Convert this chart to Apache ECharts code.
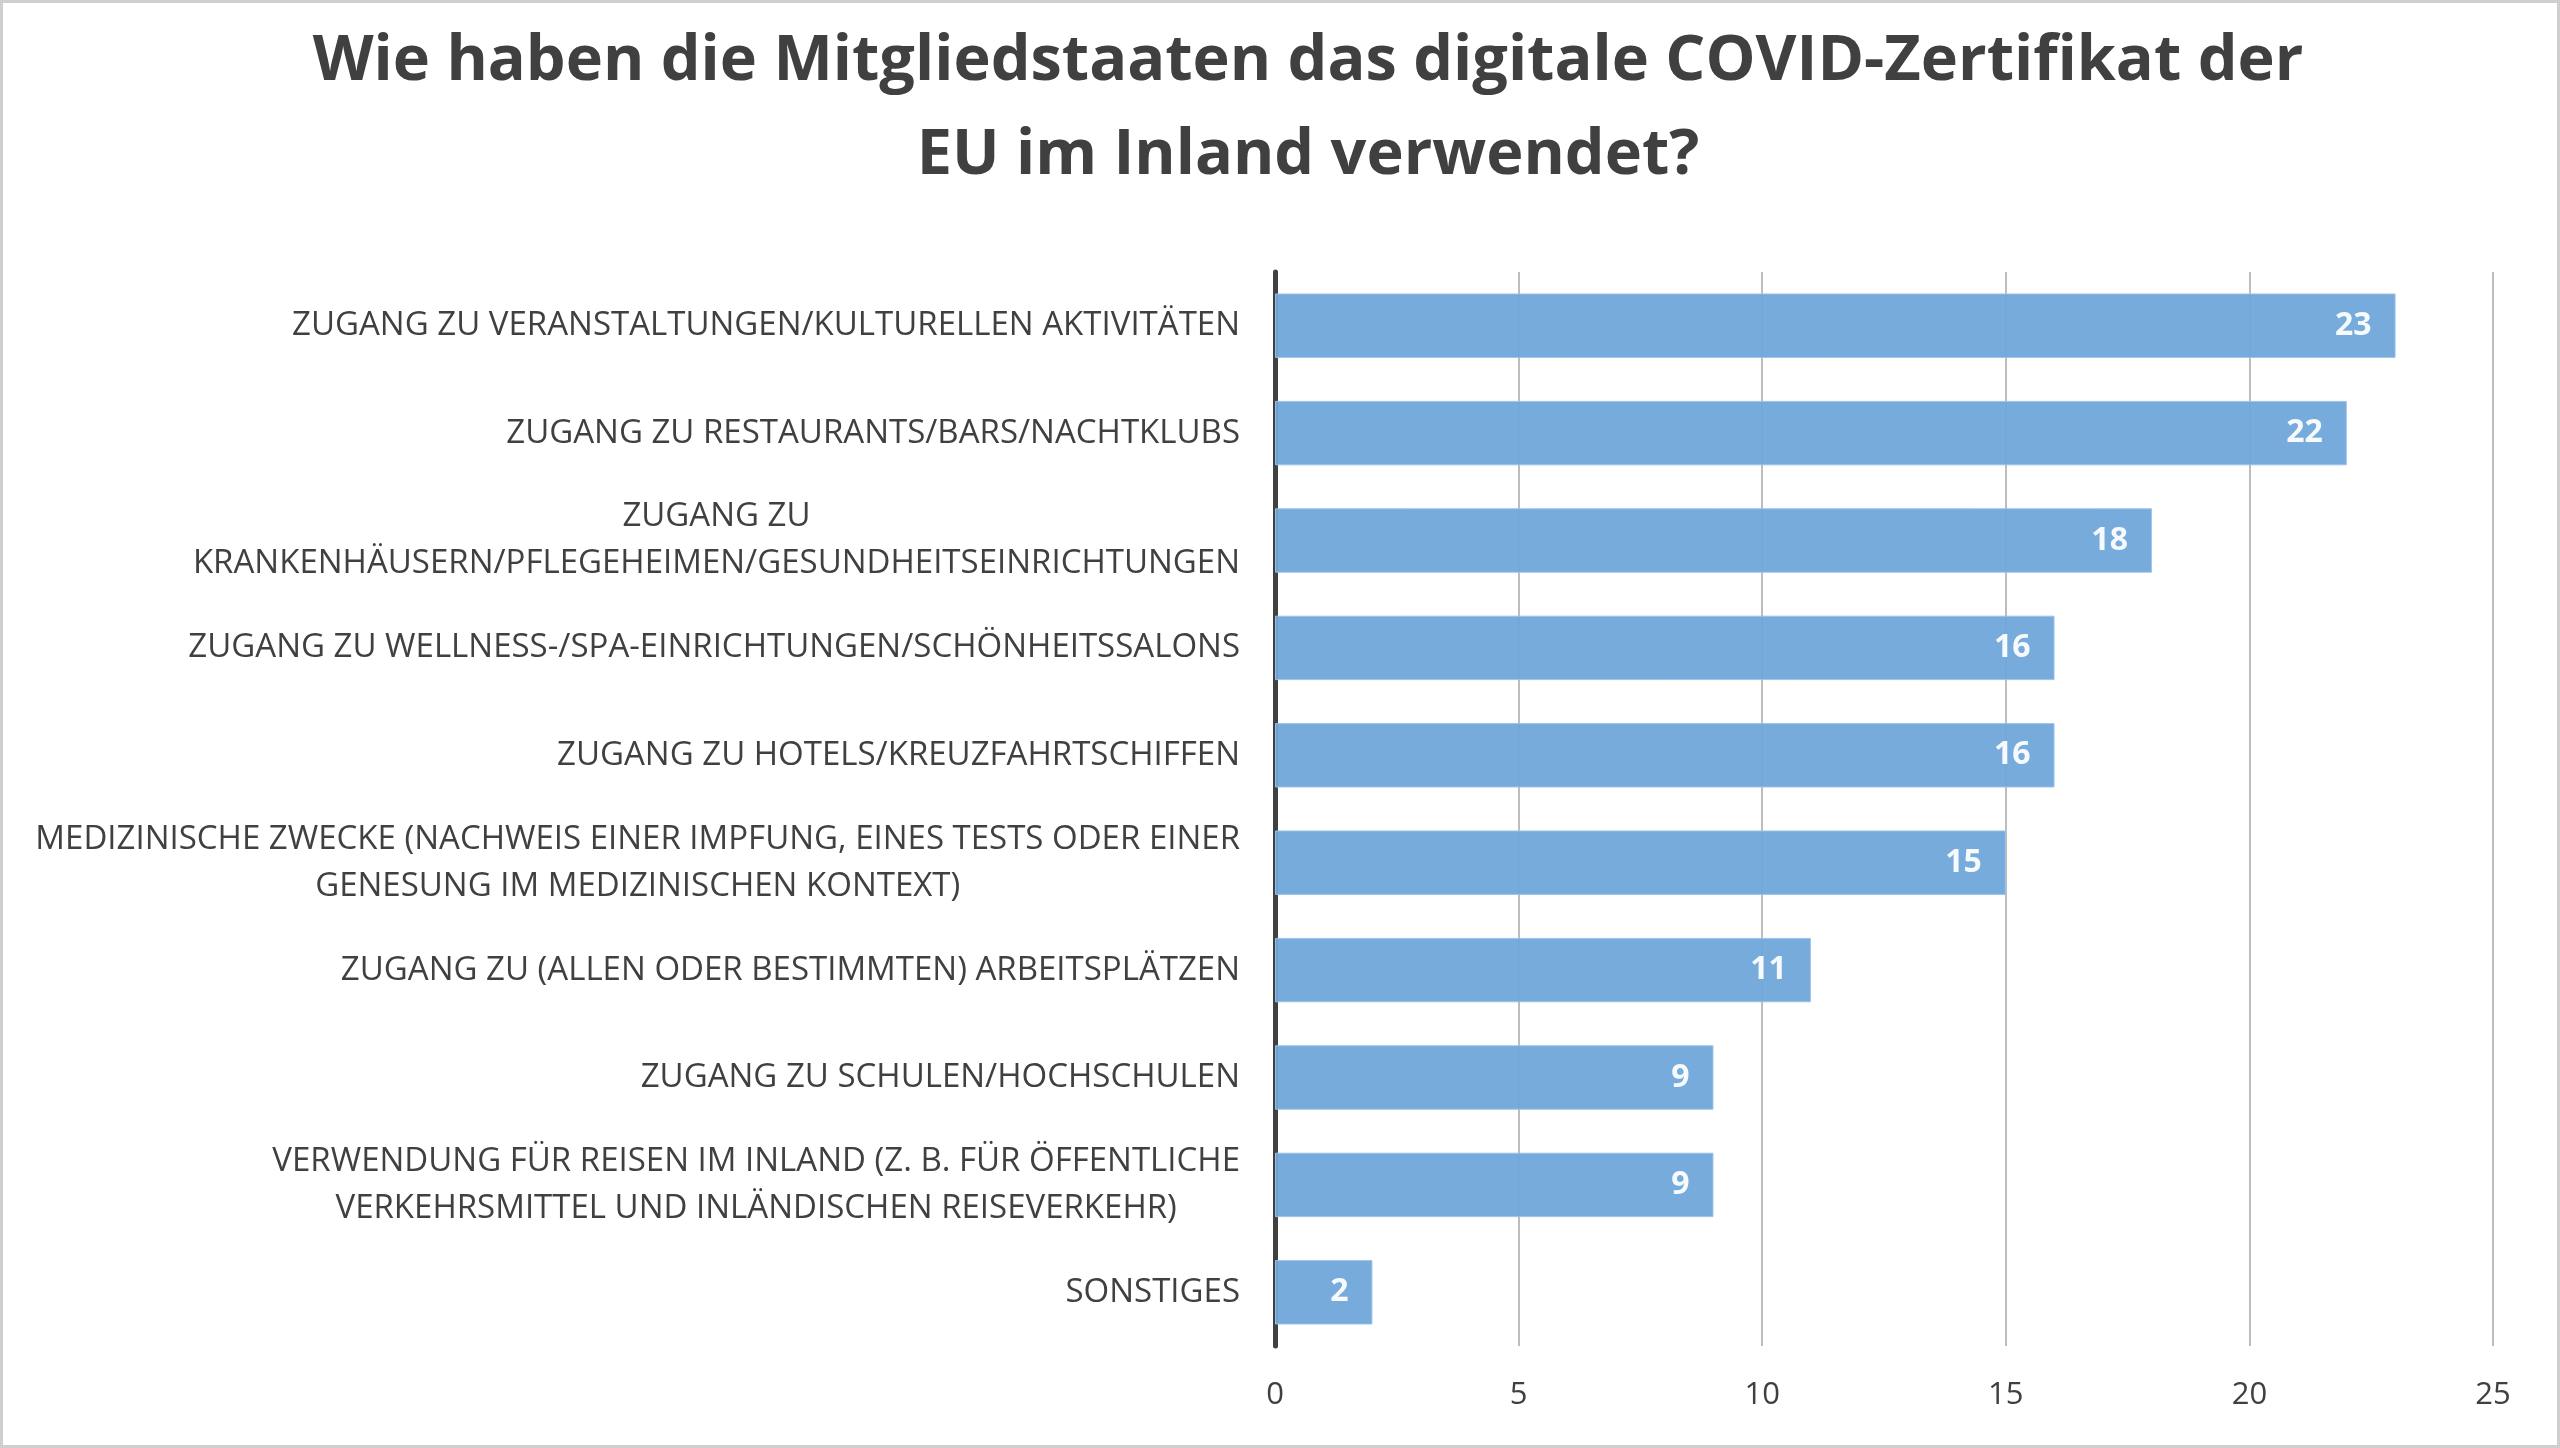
<!DOCTYPE html>
<html>
<head>
<meta charset="utf-8">
<script src="https://cdn.jsdelivr.net/npm/echarts@6/dist/echarts.min.js"></script>
<style>
html,body{margin:0;padding:0;background:#fff;}
#frame{position:absolute;left:0;top:0;width:2560px;height:1448px;box-sizing:border-box;border:3px solid #CFCFCF;}
#chart{position:absolute;left:0;top:0;width:2560px;height:1448px;}
</style>
</head>
<body>
<div id="frame"></div>
<div id="chart"></div>
<script>
const titleText = 'Wie haben die Mitgliedstaaten das digitale COVID-Zertifikat der\nEU im Inland verwendet?';
const categories = [
  'ZUGANG ZU VERANSTALTUNGEN/KULTURELLEN AKTIVITÄTEN',
  'ZUGANG ZU RESTAURANTS/BARS/NACHTKLUBS',
  'ZUGANG ZU\nKRANKENHÄUSERN/PFLEGEHEIMEN/GESUNDHEITSEINRICHTUNGEN',
  'ZUGANG ZU WELLNESS-/SPA-EINRICHTUNGEN/SCHÖNHEITSSALONS',
  'ZUGANG ZU HOTELS/KREUZFAHRTSCHIFFEN',
  'MEDIZINISCHE ZWECKE (NACHWEIS EINER IMPFUNG, EINES TESTS ODER EINER\nGENESUNG IM MEDIZINISCHEN KONTEXT)',
  'ZUGANG ZU (ALLEN ODER BESTIMMTEN) ARBEITSPLÄTZEN',
  'ZUGANG ZU SCHULEN/HOCHSCHULEN',
  'VERWENDUNG FÜR REISEN IM INLAND (Z. B. FÜR ÖFFENTLICHE\nVERKEHRSMITTEL UND INLÄNDISCHEN REISEVERKEHR)',
  'SONSTIGES'
];
const values = [23, 22, 18, 16, 16, 15, 11, 9, 9, 2];
const axisMin = 0, axisMax = 25, axisStep = 5;

const chart = echarts.init(document.getElementById('chart'), null, {renderer: 'canvas'});
chart.setOption({
  backgroundColor: 'transparent',
  animation: false,
  title: {
    text: titleText,
    left: 1303,
    top: 10,
    textAlign: 'center',
    textStyle: {
      fontFamily: 'Open Sans',
      fontWeight: 'bold',
      fontSize: 63,
      lineHeight: 94,
      color: '#404040'
    }
  },
  grid: {left: 1275, right: 67, top: 272, bottom: 102, containLabel: false},
  xAxis: {
    type: 'value',
    min: axisMin, max: axisMax, interval: axisStep,
    axisLine: {show: false},
    axisTick: {show: false},
    splitLine: {show: true, lineStyle: {color: '#BDBDBD', width: 2}},
    axisLabel: {
      margin: 34,
      fontFamily: 'Open Sans',
      fontSize: 31,
      color: '#404040'
    }
  },
  yAxis: {
    type: 'category',
    data: categories,
    inverse: true,
    axisLine: {show: true, lineStyle: {color: '#404040', width: 5}},
    axisTick: {show: false},
    axisLabel: {
      margin: 35,
      align: 'right',
      formatter: function (v) {
        return v.split('\n').map(function (s) { return '{c|' + s + '}'; }).join('\n');
      },
      rich: {
        c: {
          align: 'center',
          fontFamily: 'Open Sans',
          fontSize: 33,
          lineHeight: 47,
          color: '#404040'
        }
      }
    }
  },
  series: [{
    type: 'bar',
    data: values,
    barCategoryGap: '40%',
    itemStyle: {color: '#6FA6DA', opacity: 0.95, borderColor: '#9CC3E8', borderWidth: 1},
    label: {
      show: true,
      position: 'insideRight',
      distance: 24,
      fontFamily: 'Open Sans',
      fontWeight: 'bold',
      fontSize: 32,
      color: '#FFFFFF'
    },
    z: 3
  }]
});
</script>
</body>
</html>
